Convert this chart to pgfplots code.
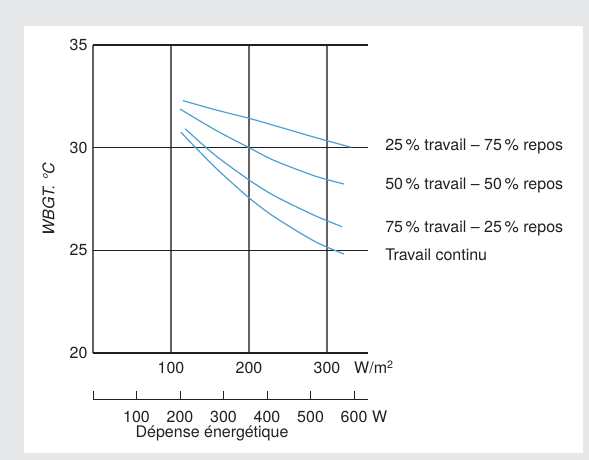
\documentclass[border=0pt]{standalone}
\usepackage{fontspec}
\setmainfont{TeX Gyre Heros}
\usepackage{pgfplots}
\pgfplotsset{compat=1.18}
\definecolor{bg}{HTML}{E6E7E8}
\definecolor{curve}{RGB}{78,160,208}
\definecolor{txt}{HTML}{231F20}
\definecolor{vgrid}{HTML}{626262}
\begin{document}
\fontsize{12}{14}\selectfont
\begin{tikzpicture}[font=\fontsize{12}{14}\selectfont]
\fill[bg] (0,0) rectangle (441.75pt,345pt);
\fill[white] (18pt,5.25pt) rectangle (437.25pt,325.5pt);
\begin{axis}[
  at={(69.75pt,80.25pt)}, anchor=south west,
  scale only axis, width=206.25pt, height=231pt,
  xmin=0, xmax=352.6, ymin=20, ymax=35,
  axis line style={draw=none},
  tick style={draw=none},
  xtick={0,100,200,300}, xticklabels={,100,200,300},
  ytick={20,25,30,35},
  xmajorgrids, ymajorgrids,
  major x grid style={vgrid, line width=1pt},
  major y grid style={txt, line width=0.8pt},
  tick label style={text=txt},
  xticklabel style={anchor=base, yshift=-15.75pt},
  /pgf/number format/assume math mode=true,
  clip=false,
]
\addplot[curve, line width=0.9pt, smooth] coordinates {(115.5,32.29) (156.4,31.85) (200,31.43) (233.3,31.07) (284.6,30.50) (330.8,30.02)};
\addplot[curve, line width=0.9pt, smooth] coordinates {(111.7,31.88) (156.4,30.87) (200,30.0) (233.3,29.36) (284.6,28.62) (321.8,28.23)};
\addplot[curve, line width=0.9pt, smooth] coordinates {(118.1,30.92) (156.4,29.64) (200,28.43) (233.3,27.64) (284.6,26.69) (319.5,26.15)};
\addplot[curve, line width=0.9pt, smooth] coordinates {(112.6,30.75) (156.4,29.05) (200,27.56) (233.3,26.61) (284.6,25.43) (321.8,24.82)};
\node[anchor=base west, inner sep=0, text=txt] at (axis cs:374.4,29.85) {25\,\% travail -- 75\,\% repos};
\node[anchor=base west, inner sep=0, text=txt] at (axis cs:374.4,27.94) {50\,\% travail -- 50\,\% repos};
\node[anchor=base west, inner sep=0, text=txt] at (axis cs:374.4,25.88) {75\,\% travail -- 25\,\% repos};
\node[anchor=base west, inner sep=0, text=txt] at (axis cs:374.4,24.49) {Travail continu};
\node[anchor=base west, inner sep=0, yshift=-15.75pt, text=txt] at (axis cs:334.6,20) {W/m\textsuperscript{2}};
\node[rotate=90, text=txt] at (axis cs:-57,27.5) {\textit{WBGT. °C}};
\end{axis}
\begin{axis}[
  at={(69.75pt,45pt)}, anchor=south west,
  scale only axis, width=206.25pt, height=1pt,
  xmin=0, xmax=632, ymin=0, ymax=1,
  axis x line*=bottom, axis y line=none,
  x axis line style={-, draw=txt, line width=0.75pt},
  xtick={0,100,200,300,400,500,600}, xticklabels={,100,200,300,400,500,600},
  ytick=\empty,
  tick align=inside, major tick length=7pt,
  x tick style={draw=txt, line width=0.75pt},
  tick label style={text=txt},
  xticklabel style={anchor=base, yshift=-17.25pt},
  /pgf/number format/assume math mode=true,
  clip=false,
]
\addplot[draw=none] coordinates {(0,0)};
\node[anchor=base, yshift=-28.5pt, text=txt] at (axis cs:273.6,0) {Dépense énergétique};
\node[anchor=base west, inner sep=0, yshift=-17.25pt, text=txt] at (axis cs:641,0) {W};
\end{axis}
\end{tikzpicture}
\end{document}
